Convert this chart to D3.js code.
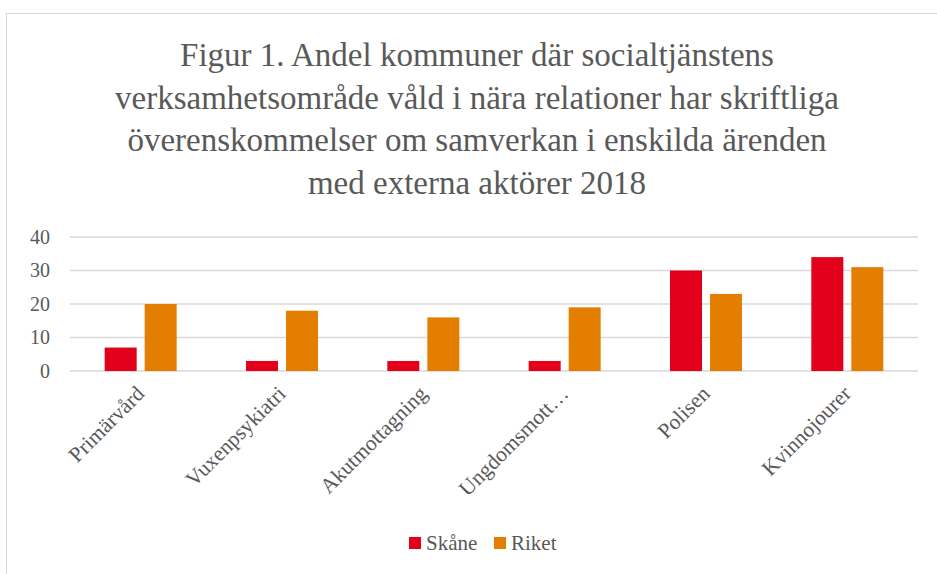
<!DOCTYPE html>
<html><head><meta charset="utf-8">
<script src="https://cdn.jsdelivr.net/npm/d3@7"></script>
<style>body{margin:0;background:#fff;} svg{display:block;}</style>
</head><body>
<svg id="c" width="937" height="574"></svg>
<script>
const categories = ["Primärvård","Vuxenpsykiatri","Akutmottagning","Ungdomsmott…","Polisen","Kvinnojourer"];
const seriesNames = ["Skåne","Riket"];
const skane = [7,3,3,3,30,34];
const riket = [20,18,16,19,23,31];
const yTicks = [0,10,20,30,40];
const titleLines = ["Figur 1. Andel kommuner där socialtjänstens","verksamhetsområde våld i nära relationer har skriftliga","överenskommelser om samverkan i enskilda ärenden","med externa aktörer 2018"];
const colors = ["#e2001a","#e37e00"];

const svg = d3.select("#c");
const font = "'Liberation Serif', 'DejaVu Serif', serif";
const txt = "#595959";

svg.append("rect").attr("x",6.5).attr("y",13.5).attr("width",940).attr("height",580)
  .attr("fill","#fff").attr("stroke","#d9d9d9");

svg.append("g").selectAll("text").data(titleLines).join("text")
  .attr("x",477).attr("y",(d,i)=>66+i*42.5)
  .attr("text-anchor","middle").attr("font-family",font).attr("font-size",33)
  .attr("fill",txt).text(d=>d);

const x0 = d3.scaleBand().domain(categories).range([70,918]);
const y = d3.scaleLinear().domain([0,40]).range([371,237]);
const data = categories.map((c,i)=>({c, vals:[skane[i],riket[i]]}));

svg.append("g").selectAll("line").data(yTicks).join("line")
  .attr("x1",70).attr("x2",918).attr("y1",d=>y(d)).attr("y2",d=>y(d))
  .attr("stroke","#d9d9d9").attr("stroke-width",1.5);

svg.append("g").selectAll("text").data(yTicks).join("text")
  .attr("x",50).attr("y",d=>y(d)+6.5).attr("text-anchor","end")
  .attr("font-family",font).attr("font-size",20).attr("fill",txt).text(d=>d);

const bw = 32, gap = 8;
const g = svg.append("g").selectAll("g").data(data).join("g");
g.selectAll("rect").data(d=>d.vals.map((v,j)=>({c:d.c,v,j}))).join("rect")
  .attr("x",d=>x0(d.c)+x0.bandwidth()/2 - bw - gap/2 + d.j*(bw+gap))
  .attr("width",bw)
  .attr("y",d=>y(d.v)).attr("height",d=>y(0)-y(d.v))
  .attr("fill",d=>colors[d.j]);

svg.append("g").selectAll("text").data(categories).join("text")
  .attr("transform",d=>`translate(${x0(d)+x0.bandwidth()/2+5},395) rotate(-45)`)
  .attr("text-anchor","end").attr("font-family",font).attr("font-size",21.5)
  .attr("fill",txt).text(d=>d);

const lg = svg.append("g");
const items = [{n:seriesNames[0],x:409,c:colors[0]},{n:seriesNames[1],x:494,c:colors[1]}];
items.forEach(it=>{
  lg.append("rect").attr("x",it.x).attr("y",537).attr("width",12).attr("height",12).attr("fill",it.c);
  lg.append("text").attr("x",it.x+17).attr("y",550).attr("font-family",font).attr("font-size",21)
    .attr("fill",txt).text(it.n);
});
</script>
</body></html>
